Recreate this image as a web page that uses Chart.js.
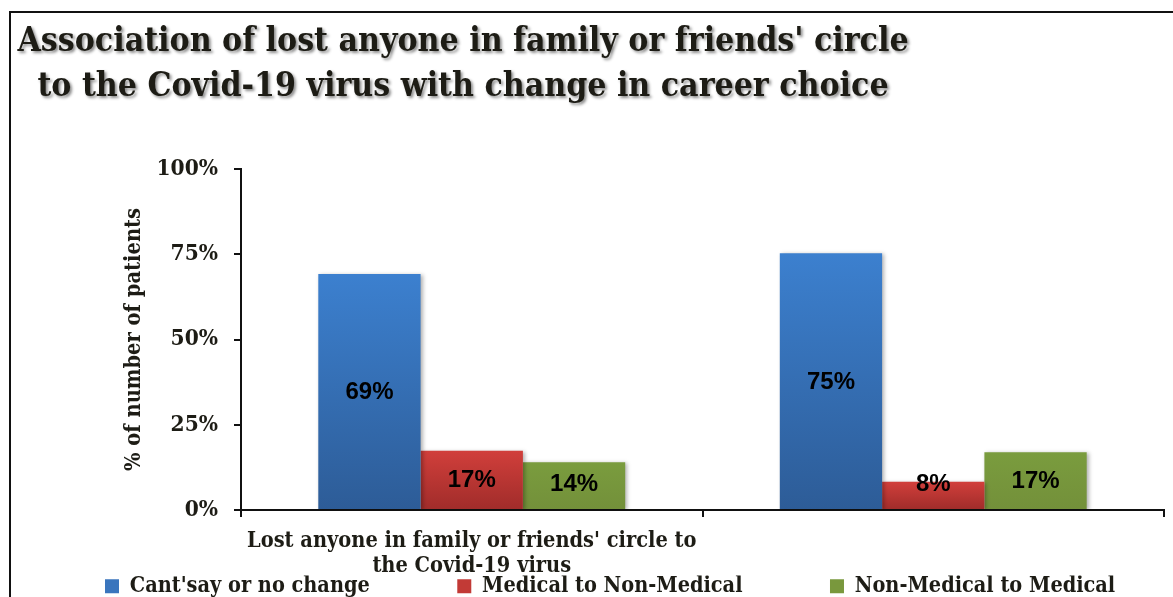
<!DOCTYPE html>
<html>
<head>
<meta charset="utf-8">
<script src="https://cdn.jsdelivr.net/npm/chart.js@4.4.0/dist/chart.umd.min.js"></script>
<style>
  html, body { margin: 0; padding: 0; background: #fff; overflow: hidden; }
  canvas { display: block; }
</style>
</head>
<body>
<canvas id="chart" width="1173" height="607"></canvas>
<script>
// chart data
const titleLines = ["Association of lost anyone in family or friends' circle", "to the Covid-19 virus with change in career choice"];
const categories = [["Lost anyone in family or friends' circle to", "the Covid-19 virus"], ""];
const seriesNames = ["Cant'say or no change", "Medical to Non-Medical", "Non-Medical to Medical"];
const cantSay = [69.2, 75.3];
const medToNonMed = [17.4, 8.3];
const nonMedToMed = [14.0, 16.9];
const yTicks = [0, 25, 50, 75, 100];
const yTitle = "% of number of patients";

const serif = "'DejaVu Serif Condensed', 'DejaVu Serif', serif";
const textColor = '#1d1c15';

// top / bottom colours of each series' bar gradient
const colours = [
    ['#3c80cf', '#2d5c97'],
    ['#d13f3b', '#a02c2a'],
    ['#7a9c3e', '#73903a']
];

function barFill(i) {
    return (ctx) => {
        const [top, bottom] = colours[i];
        if (ctx.type !== 'data' || !ctx.chart.scales.y) return bottom;
        const y = ctx.chart.scales.y;
        const yTop = y.getPixelForValue(ctx.raw);
        const yBase = y.getPixelForValue(0);
        if (!isFinite(yTop) || yBase - yTop < 1) return bottom;
        const g = ctx.chart.ctx.createLinearGradient(0, yTop, 0, yBase);
        g.addColorStop(0, top);
        g.addColorStop(1, bottom);
        return g;
    };
}

// frame + white background
const framePlugin = {
    id: 'frame',
    beforeDraw(chart) {
        const c = chart.ctx;
        c.save();
        c.fillStyle = '#fff';
        c.fillRect(0, 0, chart.width, chart.height);
        c.strokeStyle = '#111';
        c.lineWidth = 2;
        c.beginPath();
        c.moveTo(10, chart.height);
        c.lineTo(10, 12);
        c.lineTo(chart.width, 12);
        c.stroke();
        c.restore();
    }
};

// two-line title with a soft shadow
const titlePlugin = {
    id: 'shadowTitle',
    afterDraw(chart) {
        const c = chart.ctx;
        c.save();
        c.font = "bold 33.5px " + serif;
        c.fillStyle = textColor;
        c.textAlign = 'center';
        c.textBaseline = 'alphabetic';
        c.shadowColor = 'rgba(0,0,0,0.45)';
        c.shadowBlur = 3;
        c.shadowOffsetX = 2;
        c.shadowOffsetY = 2;
        c.fillText(titleLines[0], 463, 51);
        c.fillText(titleLines[1], 463, 96);
        c.restore();
    }
};

// bar shadow + value labels
const barLabelPlugin = {
    id: 'barLabels',
    beforeDatasetsDraw(chart) {
        const c = chart.ctx;
        c.save();
        c.shadowColor = 'rgba(0,0,0,0.3)';
        c.shadowBlur = 4;
        c.shadowOffsetX = 2;
        c.shadowOffsetY = 1;
    },
    afterDatasetsDraw(chart) {
        const c = chart.ctx;
        c.restore();
        c.save();
        c.font = "bold 24px 'Liberation Sans', Arial, sans-serif";
        c.fillStyle = '#000';
        c.textAlign = 'center';
        c.textBaseline = 'middle';
        chart.data.datasets.forEach((ds, i) => {
            chart.getDatasetMeta(i).data.forEach((bar, j) => {
                const p = bar.getProps(['x', 'y', 'base'], true);
                const cy = Math.min((p.y + p.base) / 2, p.base - 26);
                c.fillText(Math.round(ds.data[j]) + '%', p.x, cy + 1);
            });
        });
        c.restore();
    }
};

const legendColours = ['#3a75bd', '#c23a36', '#79983d'];

new Chart(document.getElementById('chart'), {
    type: 'bar',
    data: {
        labels: categories,
        datasets: [
            { label: seriesNames[0], data: cantSay, backgroundColor: barFill(0) },
            { label: seriesNames[1], data: medToNonMed, backgroundColor: barFill(1) },
            { label: seriesNames[2], data: nonMedToMed, backgroundColor: barFill(2) }
        ]
    },
    options: {
        responsive: false,
        animation: false,
        devicePixelRatio: 1,
        categoryPercentage: 0.665,
        barPercentage: 1,
        layout: { padding: { top: 169, left: 105, right: 9, bottom: 0 } },
        plugins: {
            title: { display: false },
            tooltip: { enabled: false },
            legend: {
                position: 'bottom',
                align: 'start',
                labels: {
                    color: textColor,
                    font: { family: serif, size: 21.5, weight: 'bold' },
                    boxWidth: 14,
                    boxHeight: 14,
                    padding: 0,
                    generateLabels(chart) {
                        const items = Chart.defaults.plugins.legend.labels.generateLabels(chart);
                        items.forEach((it, i) => {
                            it.text = seriesNames[i] + (i < seriesNames.length - 1 ? ' '.repeat(13) : '');
                            it.fillStyle = legendColours[i];
                            it.strokeStyle = legendColours[i];
                            it.lineWidth = 0;
                        });
                        return items;
                    }
                }
            }
        },
        scales: {
            x: {
                grid: { display: true, drawOnChartArea: false, offset: true, color: '#111', lineWidth: 2, tickLength: 7 },
                border: { display: true, color: '#111', width: 2 },
                ticks: {
                    color: textColor,
                    font: { family: serif, size: 21.6, weight: 'bold' },
                    padding: 11,
                    maxRotation: 0,
                    minRotation: 0,
                    autoSkip: false
                },
                afterFit(scale) { scale.height = 65.5; }
            },
            y: {
                min: 0,
                max: 100,
                afterBuildTicks(scale) { scale.ticks = yTicks.map(v => ({ value: v })); },
                grid: { display: true, drawOnChartArea: false, color: '#111', lineWidth: 2, tickLength: 7 },
                border: { display: true, color: '#111', width: 2 },
                ticks: {
                    color: textColor,
                    font: { family: serif, size: 22.5, weight: 'bold' },
                    padding: 16,
                    callback: v => v + '%'
                },
                title: {
                    display: true,
                    text: yTitle,
                    color: textColor,
                    font: { family: serif, size: 21.7, weight: 'bold' },
                    padding: { top: 16, bottom: 0 }
                },
                afterFit(scale) { scale.width = 136; }
            }
        }
    },
    plugins: [framePlugin, titlePlugin, barLabelPlugin]
});
</script>
</body>
</html>
